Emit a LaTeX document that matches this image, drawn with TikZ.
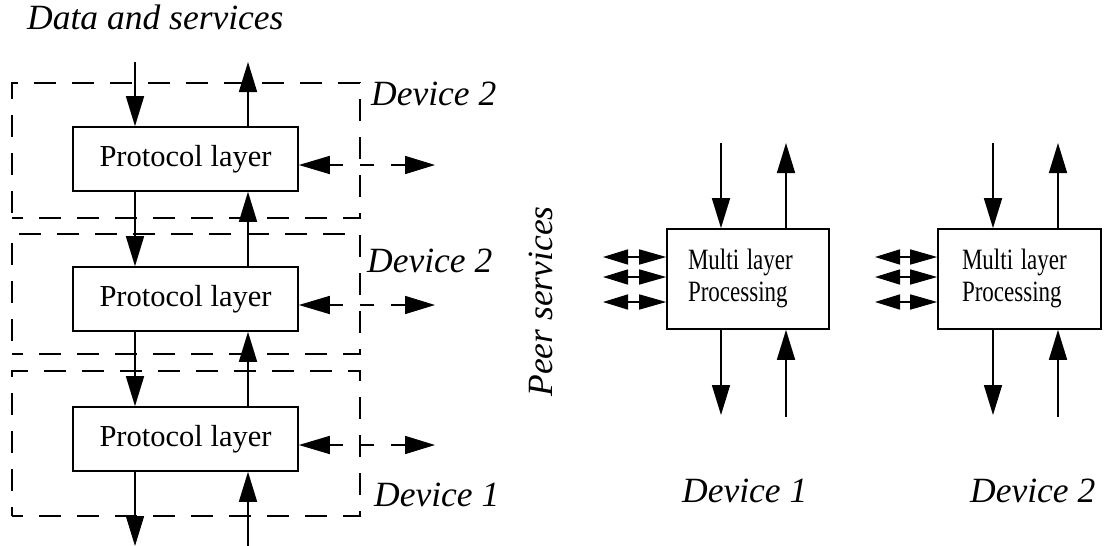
\documentclass[tikz,border=0pt]{standalone}
\usepackage{fontspec}
\setmainfont{Liberation Serif}
\usetikzlibrary{arrows.meta}
\newcommand{\mltext}{\raisebox{-5pt}{\begin{tabular}[c]{@{}l@{}}\scalebox{0.78}[1]{Multi layer}\\\scalebox{0.78}[1]{Processing}\end{tabular}}}
\tikzset{
 layerbox/.style={draw, line width=1.6pt, minimum width=225pt, minimum height=64pt, inner sep=0pt, font=\fontsize{30.5}{36}\selectfont},
 devframe/.style={draw, line width=1.3pt, dash pattern=on 22pt off 16pt, dash phase=11pt, inner sep=0pt, minimum width=348pt},
 flow/.style={line width=1.6pt, -{Triangle[length=30pt,width=18pt]}},
 peerarrow/.style={line width=1.6pt, dash pattern=on 14pt off 17pt, {Triangle[length=31pt,width=18pt]}-{Triangle[length=30pt,width=18pt]}},
 dbl/.style={line width=1.6pt, {Triangle[length=25pt,width=15pt]}-{Triangle[length=27pt,width=15pt]}},
 mlbox/.style={draw, line width=1.6pt, minimum height=100pt, inner ysep=0pt, align=left, font=\fontsize{29.5}{32}\selectfont},
 lbl/.style={inner sep=0pt, anchor=base west, font=\itshape\fontsize{35.5}{40}\selectfont},
}
\begin{document}
\begin{tikzpicture}[x=1pt,y=-1pt]
\useasboundingbox (0,0) rectangle (1109,546);
% device frames
\node[devframe, minimum height=135pt] (d1) at (186,150.5) {};
\node[devframe, minimum height=120pt] (d2) at (186,294) {};
\node[devframe, minimum height=145pt] (d3) at (186,443.5) {};
% protocol layers
\node[layerbox] (p1) at (185.5,159) {Protocol layer};
\node[layerbox] (p2) at (185.5,299) {Protocol layer};
\node[layerbox] (p3) at (185.5,439) {Protocol layer};
\coordinate (inA) at (135,62);
\coordinate (outA) at (248,62);
\coordinate (inB) at (135,546);
\coordinate (outB) at (248,546);
\draw[flow] (inA) -- (inA |- p1.north);
\draw[flow] (p1.north -| outA) -- (outA);
\draw[flow] (p1.south -| inA) -- (p2.north -| inA);
\draw[flow] (p2.north -| outA) -- (p1.south -| outA);
\draw[flow] (p2.south -| inA) -- (p3.north -| inA);
\draw[flow] (p3.north -| outA) -- (p2.south -| outA);
\draw[flow] (p3.south -| inA) -- (inB);
\draw[flow] (outB) -- (p3.south -| outA);
% peer arrows
\coordinate (e1) at (435,165);
\coordinate (e2) at (435,305);
\coordinate (e3) at (435,445);
\draw[peerarrow] (e1 -| p1.east) -- (e1);
\draw[peerarrow] (e2 -| p2.east) -- (e2);
\draw[peerarrow] (e3 -| p3.east) -- (e3);
% multi layer boxes
\node[mlbox, text width=120pt, inner xsep=21pt] (m1) at (748,279) {\mltext};
\node[mlbox, text width=115pt, inner xsep=24pt] (m2) at (1019.5,279) {\mltext};
\coordinate (m1i) at (721,143);
\coordinate (m1o) at (786,143);
\coordinate (m1d) at (721,415);
\coordinate (m1u) at (786,417);
\draw[flow] (m1i) -- (m1i |- m1.north);
\draw[flow] (m1.north -| m1o) -- (m1o);
\draw[flow] (m1.south -| m1i) -- (m1d);
\draw[flow] (m1u) -- (m1.south -| m1u);
\coordinate (m2i) at (993,143);
\coordinate (m2o) at (1058,143);
\coordinate (m2d) at (993,415);
\coordinate (m2u) at (1058,417);
\draw[flow] (m2i) -- (m2i |- m2.north);
\draw[flow] (m2.north -| m2o) -- (m2o);
\draw[flow] (m2.south -| m2i) -- (m2d);
\draw[flow] (m2u) -- (m2.south -| m2u);
\coordinate (a1) at (603,257);
\coordinate (a2) at (603,277);
\coordinate (a3) at (603,302);
\draw[dbl] (a1) -- (a1 -| m1.west);
\draw[dbl] (a2) -- (a2 -| m1.west);
\draw[dbl] (a3) -- (a3 -| m1.west);
\coordinate (b1) at (875,257);
\coordinate (b2) at (875,277);
\coordinate (b3) at (875,302);
\draw[dbl] (b1) -- (b1 -| m2.west);
\draw[dbl] (b2) -- (b2 -| m2.west);
\draw[dbl] (b3) -- (b3 -| m2.west);
% labels
\node[lbl] (ds) at (27,30) {Data and services};
\node[lbl] (dv2a) at (371,105) {Device 2};
\node[lbl] (dv2b) at (367,272) {Device 2};
\node[lbl] (dv1a) at (374,506) {Device 1};
\node[lbl] (dv1b) at (682,502) {Device 1};
\node[lbl] (dv2c) at (970,502) {Device 2};
\node[lbl, anchor=base, rotate=90] (peer) at (552,301.5) {Peer services};
\end{tikzpicture}
\end{document}
